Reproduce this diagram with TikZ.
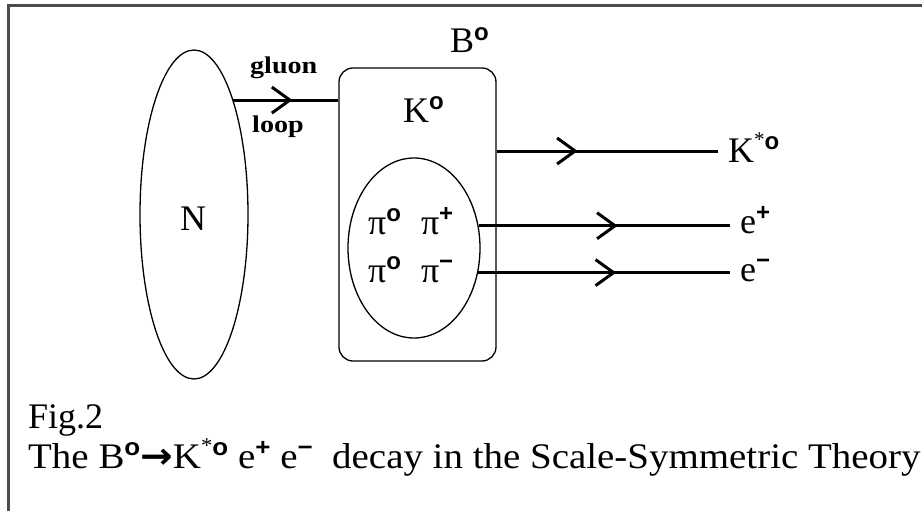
\documentclass[tikz,border=0pt]{standalone}
\usepackage{fontspec}
\setmainfont{Liberation Serif}
\setsansfont{Liberation Sans}
\newfontfamily\arrowfont{DejaVu Sans}
\usetikzlibrary{shapes.geometric,arrows.meta,decorations.markings}
\newcommand\hiup[1]{\raisebox{0.36em}{\fontsize{24}{24}\selectfont\sffamily\bfseries #1}}
\newcommand\hiast{\raisebox{0.42em}{\fontsize{21}{21}\selectfont *}}
\begin{document}
\begin{tikzpicture}[x=1pt,y=-1pt,
  thinline/.style={line width=1.3pt},
  flow/.style={line width=3pt},
  midarrow/.style={decoration={markings, mark=at position #1 with {\arrow{Straight Barb[length=18pt,width=26pt]}}}, postaction={decorate}},
  lbl/.style={inner sep=0pt, anchor=base west, font=\fontsize{36}{40}\selectfont},
  smallbold/.style={inner sep=0pt, anchor=base west, font=\fontsize{24}{26}\selectfont\bfseries}]
\useasboundingbox (0,0) rectangle (922,511);
\fill[white] (0,0) rectangle (922,511);
% frame
\draw[line width=2.7pt, black!70] (8.7,511) -- (8.7,5.3) -- (922,5.3);
% shapes
\node[draw, thinline, ellipse, minimum width=108pt, minimum height=329pt, inner sep=0pt] (N) at (194,214.5) {};
\node[draw, thinline, rounded corners=14pt, minimum width=157pt, minimum height=293pt, inner sep=0pt] (B) at (417.5,214.5) {};
\node[draw, thinline, ellipse, minimum width=132pt, minimum height=180pt, inner sep=0pt] (P) at (414,248) {};
% labels
\node[lbl] (Nl) at (180,230) {N};
\node[lbl] (Bl) at (450,53) {B\hiup{o}};
\node[lbl] (Kl) at (403,122) {K\hiup{o}};
\node[smallbold] (gl) at (250,74) {\scalebox{1.17}[1]{gluon}};
\node[smallbold] (lp) at (252,132) {\scalebox{1.17}[1]{loop}};
\node[lbl] (p1) at (368,234) {π\hiup{o}\hspace{20pt}π\hiup{+}};
\node[lbl] (p2) at (368,282) {π\hiup{o}\hspace{20pt}π\hiup{−}};
\node[lbl] (Ks) at (728,162) {K\hiast\hiup{o}};
\node[lbl] (ep) at (740,233) {e\hiup{+}};
\node[lbl] (em) at (740,281) {e\hiup{−}};
\node[lbl] (fig) at (28,428) {Fig.2};
\node[lbl] (cap) at (28,468) {\scalebox{1.082}[1]{The B\hiup{o}{\arrowfont\bfseries →}K\hiast\hiup{o} e\hiup{+} e\hiup{−}\ \ decay in the Scale-Symmetric Theory}};
% connectors
\coordinate (kend) at (718,151);
\coordinate (epend) at (730,226);
\coordinate (emend) at (730,273);
\draw[flow, midarrow=59pt] (N.71.5) -- (N.71.5 -| B.west);
\draw[flow, midarrow=81pt] (B.east |- kend) -- (kend);
\draw[flow, midarrow=139pt] (P.19) -- (P.19 -| epend);
\draw[flow, midarrow=138pt] (P.-21) -- (P.-21 -| emend);
\end{tikzpicture}
\end{document}
